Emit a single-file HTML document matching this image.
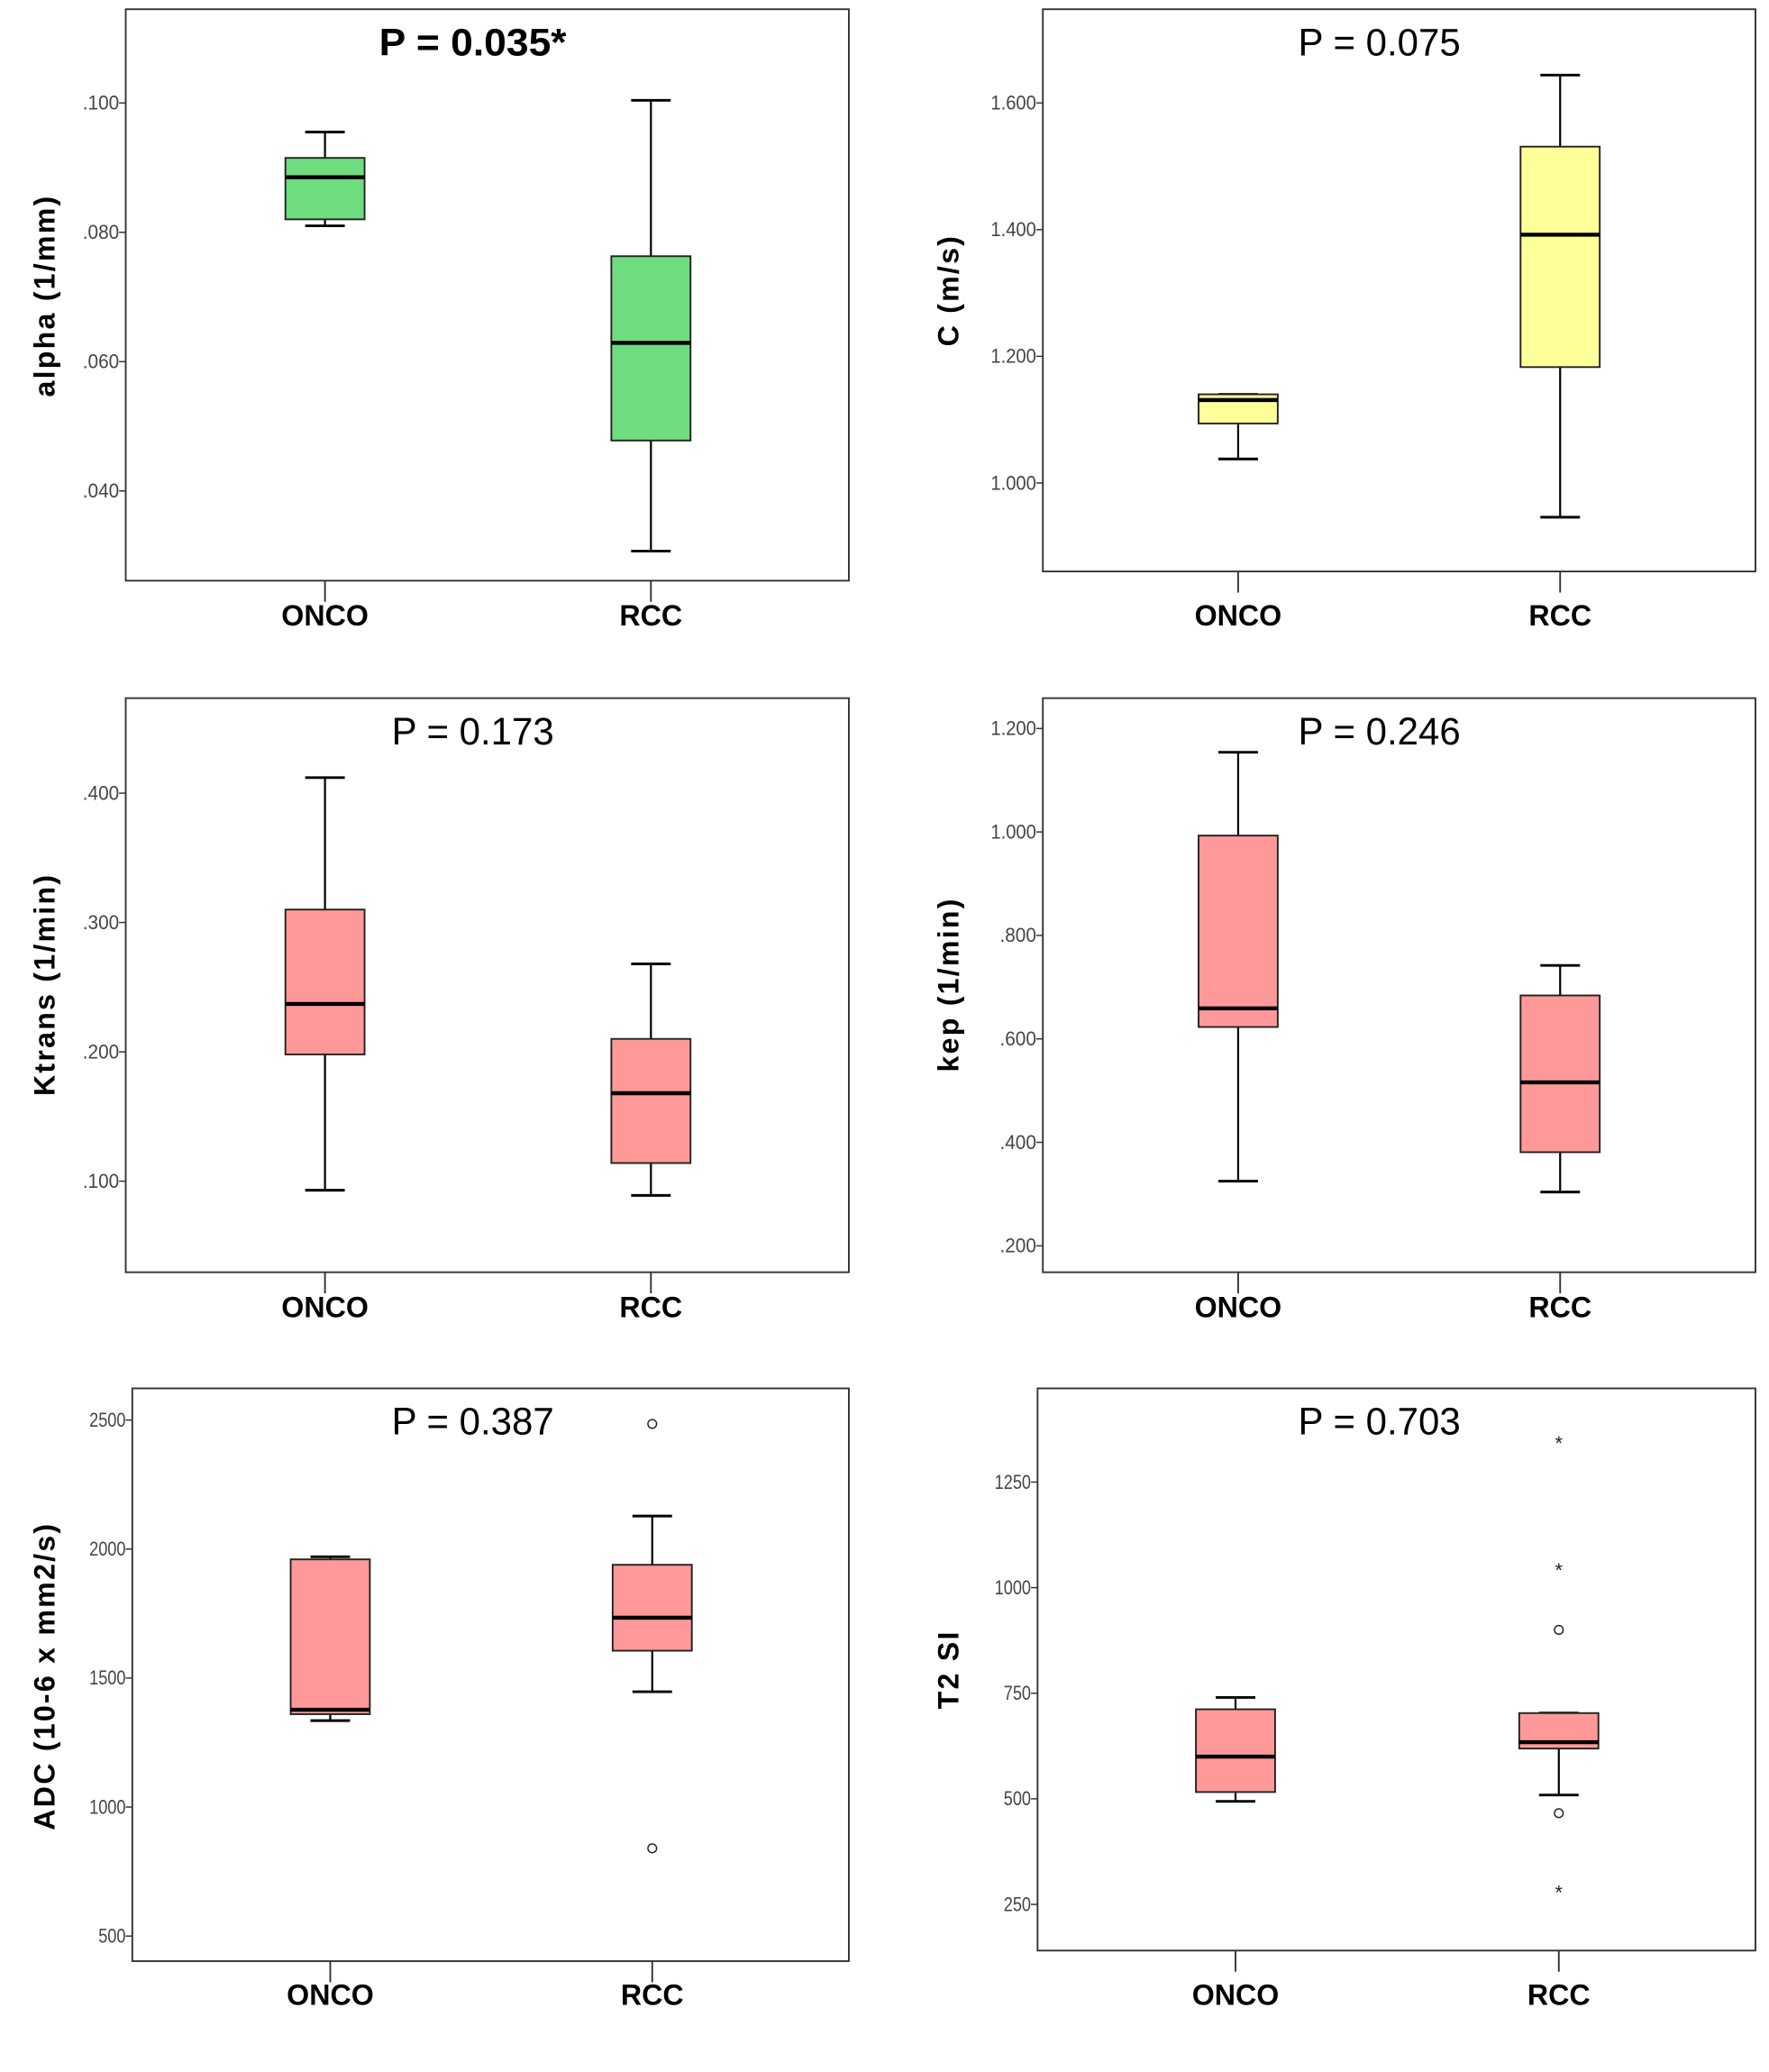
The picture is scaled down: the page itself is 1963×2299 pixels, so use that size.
<!DOCTYPE html>
<html><head><meta charset="utf-8"><style>
html,body{margin:0;padding:0;background:#fff;}
svg{display:block;}
text{font-family:"Liberation Sans",sans-serif;}
</style></head><body>
<svg id="fig" width="1963" height="2299" viewBox="0 0 1340 1570" xmlns="http://www.w3.org/2000/svg"></svg>
<script>
// ---- data (value scales) ----
const groups = ["ONCO", "RCC"];
// alpha (1/mm)
const alphaTicks = [0.04, 0.06, 0.08, 0.10];
const alphaTickLabels = [".040", ".060", ".080", ".100"];
const alphaOnco = [0.081, 0.082, 0.0885, 0.0915, 0.0955];
const alphaRcc = [0.0307, 0.0478, 0.0629, 0.0763, 0.1004];
// C (m/s)
const cTicks = [1.0, 1.2, 1.4, 1.6];
const cTickLabels = ["1.000", "1.200", "1.400", "1.600"];
const cOnco = [1.038, 1.094, 1.131, 1.140, 1.140];
const cRcc = [0.946, 1.183, 1.392, 1.531, 1.644];
// Ktrans (1/min)
const ktTicks = [0.1, 0.2, 0.3, 0.4];
const ktTickLabels = [".100", ".200", ".300", ".400"];
const ktOnco = [0.093, 0.198, 0.237, 0.310, 0.412];
const ktRcc = [0.089, 0.114, 0.168, 0.210, 0.268];
// kep (1/min)
const kepTicks = [0.2, 0.4, 0.6, 0.8, 1.0, 1.2];
const kepTickLabels = [".200", ".400", ".600", ".800", "1.000", "1.200"];
const kepOnco = [0.325, 0.623, 0.659, 0.993, 1.154];
const kepRcc = [0.304, 0.381, 0.516, 0.684, 0.742];
// ADC
const adcTicks = [500, 1000, 1500, 2000, 2500];
const adcTickLabels = ["500", "1000", "1500", "2000", "2500"];
const adcOnco = [1335, 1360, 1377, 1960, 1970];
const adcRcc = [1447, 1606, 1734, 1939, 2128];
const adcRccOutliers = [2485, 840];
// T2 SI
const t2Ticks = [250, 500, 750, 1000, 1250];
const t2TickLabels = ["250", "500", "750", "1000", "1250"];
const t2Onco = [494, 516, 600, 712, 740];
const t2Rcc = [509, 619, 634, 703, 703];
const t2RccOutliers = [900, 466];
const t2RccExtremes = [1347, 1047, 284];

const NS = "http://www.w3.org/2000/svg";
const svg = document.getElementById("fig");
function mk(tag, attrs, parent, txt) {
  const e = document.createElementNS(NS, tag);
  for (const k in attrs) e.setAttribute(k, attrs[k]);
  if (txt !== undefined) e.textContent = txt;
  (parent || svg).appendChild(e);
  return e;
}

function panel(cfg) {
  const g = mk("g", {});
  
  
  const {x0, x1, y0, y1, v0, p0, v1, p1} = cfg;
  const y = v => p0 + (v - v0) * (p1 - p0) / (v1 - v0);
  const fr = mk("rect", {x: x0, y: y0, width: x1 - x0, height: y1 - y0, fill: "none", stroke: "#333", "stroke-width": 1.3}, g);
  
  
  const t = mk("text", {x: cfg.titleX, y: y0 + 35, "text-anchor": "middle", "font-size": 29, "font-weight": cfg.bold ? "bold" : "normal", fill: "#000", textLength: cfg.titleLen, lengthAdjust: "spacingAndGlyphs"}, g, cfg.title);
  
  
  cfg.ticks.forEach((v, i) => {
    const yy = y(v);
    const tk = mk("line", {x1: x0 - 5, x2: x0, y1: yy, y2: yy, stroke: "#333", "stroke-width": 1}, g);
    
    
    const lab = cfg.tickLabels[i];
    const tl = mk("text", {x: x0 - 5, y: yy + 5, "text-anchor": "end", "font-size": 15, fill: "#444", textLength: lab.length * 6.9, lengthAdjust: "spacingAndGlyphs"}, g, lab);
    
    
  });
  const yt = mk("text", {x: 0, y: 0, transform: `translate(${cfg.ylabX},${cfg.ylabY}) rotate(-90)`, "text-anchor": "middle", "font-size": 22, "font-weight": "bold", fill: "#000", "letter-spacing": 1.5}, g, cfg.ylabel);
  
  
  cfg.series.forEach((s, i) => {
    const cx = cfg.xs[i];
    const [mn, q1, md, q3, mx] = s;
    const hw = 30, cw = 15;
    const bg = mk("g", {}, g);
    
    
    mk("line", {x1: cx, x2: cx, y1: y(mx), y2: y(q3), stroke: "#000", "stroke-width": 1.5}, bg);
    mk("line", {x1: cx, x2: cx, y1: y(q1), y2: y(mn), stroke: "#000", "stroke-width": 1.5}, bg);
    mk("line", {x1: cx - cw, x2: cx + cw, y1: y(mx), y2: y(mx), stroke: "#000", "stroke-width": 2}, bg);
    mk("line", {x1: cx - cw, x2: cx + cw, y1: y(mn), y2: y(mn), stroke: "#000", "stroke-width": 2}, bg);
    mk("rect", {x: cx - hw, y: y(q3), width: 2 * hw, height: Math.max(1, y(q1) - y(q3)), fill: cfg.color, stroke: "#222", "stroke-width": 1.3}, bg);
    mk("line", {x1: cx - hw, x2: cx + hw, y1: y(md), y2: y(md), stroke: "#000", "stroke-width": 3}, bg);
    const xt = mk("line", {x1: cx, x2: cx, y1: y1, y2: y1 + 16, stroke: "#333", "stroke-width": 1.3}, g);
    
    
    const xl = mk("text", {x: cx, y: cfg.xlabY, "text-anchor": "middle", "font-size": 22, "font-weight": "bold", fill: "#000"}, g, groups[i]);
    
    
  });
  (cfg.outliers || []).forEach(v => {
    const c = mk("circle", {cx: cfg.xs[1], cy: y(v), r: 3.3, fill: "#fff", stroke: "#222", "stroke-width": 1}, g);
    
    
  });
  (cfg.extremes || []).forEach(v => {
    const c = mk("text", {x: cfg.xs[1], y: y(v) + 7, "text-anchor": "middle", "font-size": 15, fill: "#222"}, g, "*");
    
    
  });
}

panel({name: "alpha", x0: 95, x1: 643, y0: 7, y1: 440, v0: 0.10, p0: 78, v1: 0.04, p1: 372,
  ticks: alphaTicks, tickLabels: alphaTickLabels, series: [alphaOnco, alphaRcc], xs: [246, 493], xlabY: 474,
  color: "#6fdc80", title: "P = 0.035*", bold: true, titleX: 358, titleLen: 142, ylabel: "alpha (1/mm)", ylabX: 41, ylabY: 224});
panel({name: "c", x0: 790, x1: 1330, y0: 7, y1: 433, v0: 1.6, p0: 78, v1: 1.0, p1: 366,
  ticks: cTicks, tickLabels: cTickLabels, series: [cOnco, cRcc], xs: [938, 1182], xlabY: 474,
  color: "#ffff99", title: "P = 0.075", titleX: 1045, titleLen: 123, ylabel: "C (m/s)", ylabX: 726, ylabY: 220});
panel({name: "ktrans", x0: 95, x1: 643, y0: 529, y1: 964, v0: 0.4, p0: 601, v1: 0.1, p1: 895,
  ticks: ktTicks, tickLabels: ktTickLabels, series: [ktOnco, ktRcc], xs: [246, 493], xlabY: 998,
  color: "#ff9999", title: "P = 0.173", titleX: 358, titleLen: 123, ylabel: "Ktrans (1/min)", ylabX: 41, ylabY: 746});
panel({name: "kep", x0: 790, x1: 1330, y0: 529, y1: 964, v0: 1.2, p0: 552, v1: 0.2, p1: 944,
  ticks: kepTicks, tickLabels: kepTickLabels, series: [kepOnco, kepRcc], xs: [938, 1182], xlabY: 998,
  color: "#ff9999", title: "P = 0.246", titleX: 1045, titleLen: 123, ylabel: "kep (1/min)", ylabX: 726, ylabY: 746});
panel({name: "adc", x0: 100, x1: 643, y0: 1052, y1: 1486, v0: 2500, p0: 1076, v1: 500, p1: 1467,
  ticks: adcTicks, tickLabels: adcTickLabels, series: [adcOnco, adcRcc], xs: [250, 494], xlabY: 1519,
  color: "#ff9999", title: "P = 0.387", titleX: 358, titleLen: 123, ylabel: "ADC (10-6 x mm2/s)", ylabX: 41, ylabY: 1270,
  outliers: adcRccOutliers});
panel({name: "t2", x0: 786, x1: 1330, y0: 1052, y1: 1478, v0: 1250, p0: 1123, v1: 250, p1: 1443,
  ticks: t2Ticks, tickLabels: t2TickLabels, series: [t2Onco, t2Rcc], xs: [936, 1181], xlabY: 1519,
  color: "#ff9999", title: "P = 0.703", titleX: 1045, titleLen: 123, ylabel: "T2 SI", ylabX: 726, ylabY: 1265,
  outliers: t2RccOutliers, extremes: t2RccExtremes});
</script>
</body></html>
